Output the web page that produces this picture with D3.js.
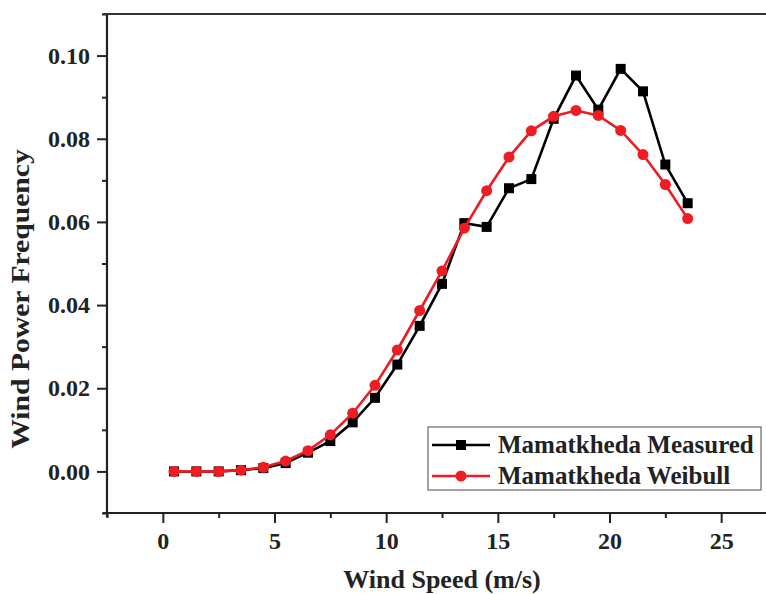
<!DOCTYPE html>
<html>
<head>
<meta charset="utf-8">
<script src="https://cdn.jsdelivr.net/npm/d3@7"></script>
<style>
  body { margin: 0; background: #fff; }
  svg text { font-family: "Liberation Serif", "Times New Roman", serif; font-weight: bold; fill: #222; }
</style>
</head>
<body>
<div class="visualizer"></div>
<script>
// data
const speeds = [0.5, 1.5, 2.5, 3.5, 4.5, 5.5, 6.5, 7.5, 8.5, 9.5, 10.5, 11.5,
                12.5, 13.5, 14.5, 15.5, 16.5, 17.5, 18.5, 19.5, 20.5, 21.5, 22.5, 23.5];
const measured = [0, 0, 0, 0.0003, 0.0008, 0.002, 0.0045, 0.0073, 0.0118, 0.0177, 0.0257, 0.035,
                  0.0451, 0.0597, 0.0588, 0.0681, 0.0703, 0.0848, 0.0952, 0.087, 0.0968, 0.0914, 0.0738, 0.0645];
const weibull = [0, 0, 0, 0.0003, 0.001, 0.0025, 0.005, 0.0088, 0.014, 0.0207, 0.0292, 0.0387,
                 0.0482, 0.0585, 0.0675, 0.0756, 0.0819, 0.0854, 0.0868, 0.0856, 0.082, 0.0762, 0.069, 0.0608];
const xTicks = [0, 5, 10, 15, 20, 25];
const yTicks = [0, 0.02, 0.04, 0.06, 0.08, 0.10];
const seriesNames = ["Mamatkheda Measured", "Mamatkheda Weibull"];

const width = 766, height = 594;
const plotLeft = 107, plotRight = 777, plotTop = 14, plotBottom = 513;

const svg = d3.select(".visualizer")
    .append("svg")
    .attr("width", width)
    .attr("height", height);

const xScale = d3.scaleLinear().domain([-2.5, 27.5]).range([plotLeft, plotRight]);
const yScale = d3.scaleLinear().domain([-0.01, 0.11]).range([plotBottom, plotTop]);

// minor ticks first
const xMinor = d3.range(-2.5, 27.6, 2.5).filter(v => !xTicks.includes(v));
const yMinor = d3.range(-0.01, 0.111, 0.01).map(v => +v.toFixed(2)).filter(v => !yTicks.includes(v));

svg.append("g")
    .attr("transform", `translate(0, ${ plotBottom })`)
    .call(d3.axisBottom(xScale).tickValues(xMinor).tickSize(5).tickFormat(""))
    .call(g => g.select(".domain").remove())
    .selectAll("line").attr("stroke", "#222").attr("stroke-width", 2);

svg.append("g")
    .attr("transform", `translate(${ plotLeft }, 0)`)
    .call(d3.axisLeft(yScale).tickValues(yMinor).tickSize(5).tickFormat(""))
    .call(g => g.select(".domain").remove())
    .selectAll("line").attr("stroke", "#222").attr("stroke-width", 2);

// x-axis
const xAxis = svg.append("g")
    .attr("id", "x-axis")
    .attr("transform", `translate(0, ${ plotBottom })`)
    .call(d3.axisBottom(xScale).tickValues(xTicks).tickSize(10).tickSizeOuter(0).tickPadding(9));
xAxis.select(".domain").attr("stroke", "#222").attr("stroke-width", 2.2).attr("d", `M${ plotLeft - 4 },0H${ plotRight }`);
xAxis.selectAll(".tick line").attr("stroke", "#222").attr("stroke-width", 2);
xAxis.selectAll("text").attr("font-size", 24).attr("font-family", null).attr("fill", "#222");

// y-axis
const yAxis = svg.append("g")
    .attr("id", "y-axis")
    .attr("transform", `translate(${ plotLeft }, 0)`)
    .call(d3.axisLeft(yScale).tickValues(yTicks).tickSize(10).tickSizeOuter(0).tickPadding(7)
        .tickFormat(d3.format(".2f")));
yAxis.select(".domain").attr("stroke", "#222").attr("stroke-width", 2.2).attr("d", `M0,${ plotTop }V${ plotBottom + 4 }`);
yAxis.selectAll(".tick line").attr("stroke", "#222").attr("stroke-width", 2);
yAxis.selectAll("text").attr("font-size", 24).attr("font-family", null).attr("fill", "#222");

// top frame line
svg.append("line")
    .attr("x1", plotLeft - 4).attr("x2", plotRight)
    .attr("y1", plotTop).attr("y2", plotTop)
    .attr("stroke", "#333").attr("stroke-width", 2.2);

// axis titles
svg.append("text")
    .attr("x", xScale(12.5)).attr("y", 588)
    .attr("text-anchor", "middle")
    .attr("font-size", 26)
    .text("Wind Speed (m/s)");

// the source picture is a bit stretched vertically, so the y title is longer
svg.append("text")
    .attr("transform", "translate(29, 299) rotate(-90) scale(1.14, 1)")
    .attr("text-anchor", "middle")
    .attr("font-size", 26)
    .text("Wind Power Frequency");

// series
const line = d3.line().x((d, i) => xScale(speeds[i])).y(d => yScale(d));

svg.append("path")
    .datum(measured)
    .attr("d", line)
    .attr("fill", "none")
    .attr("stroke", "#000")
    .attr("stroke-width", 2.6);

svg.selectAll("rect.measured")
    .data(measured)
    .enter()
    .append("rect")
    .attr("class", "measured")
    .attr("x", (d, i) => xScale(speeds[i]) - 5)
    .attr("y", d => yScale(d) - 5)
    .attr("width", 10)
    .attr("height", 10)
    .attr("fill", "#000");

svg.append("path")
    .datum(weibull)
    .attr("d", line)
    .attr("fill", "none")
    .attr("stroke", "#ec1c24")
    .attr("stroke-width", 2.6);

svg.selectAll("circle.weibull")
    .data(weibull)
    .enter()
    .append("circle")
    .attr("class", "weibull")
    .attr("cx", (d, i) => xScale(speeds[i]))
    .attr("cy", d => yScale(d))
    .attr("r", 5.5)
    .attr("fill", "#f01c24");

// legend
const legend = svg.append("g").attr("transform", "translate(428, 427)");
legend.append("rect")
    .attr("width", 333).attr("height", 63)
    .attr("fill", "#fff")
    .attr("stroke", "#666").attr("stroke-width", 1.2);

const colors = ["#000", "#ec1c24"];
seriesNames.forEach((name, i) => {
    const row = legend.append("g").attr("transform", `translate(0, ${ 18 + i * 31 })`);
    row.append("line")
        .attr("x1", 4).attr("x2", 62)
        .attr("stroke", colors[i]).attr("stroke-width", 2.6);
    if (i === 0) {
        row.append("rect").attr("x", 28).attr("y", -5).attr("width", 10).attr("height", 10).attr("fill", "#000");
    } else {
        row.append("circle").attr("cx", 33).attr("r", 5.5).attr("fill", "#f01c24");
    }
    row.append("text")
        .attr("x", 70).attr("y", 8)
        .attr("font-size", 25)
        .text(name);
});
</script>
</body>
</html>
